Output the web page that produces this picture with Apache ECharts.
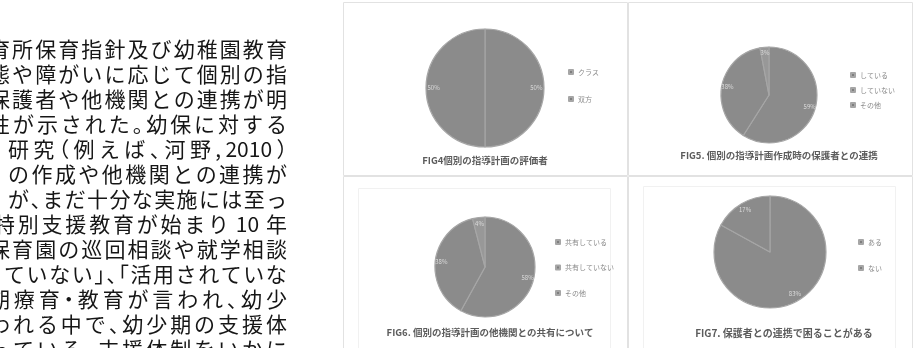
<!DOCTYPE html>
<html>
<head>
<meta charset="utf-8">
<script src="https://cdn.jsdelivr.net/npm/echarts@6/dist/echarts.min.js"></script>
<style>
html,body{margin:0;padding:0;background:#fff;width:915px;height:348px;overflow:hidden;}
#chart{position:absolute;left:0;top:0;width:915px;height:348px;z-index:1;}
#doc{position:absolute;left:0;top:0;width:338px;height:348px;overflow:hidden;z-index:2;
  font-family:"Noto Sans CJK JP","Noto Sans CJK SC",sans-serif;font-size:21px;color:#161616;}
.ln{position:absolute;display:flex;justify-content:space-between;height:25px;line-height:25px;white-space:nowrap;}
.p{font-feature-settings:"halt";}
.a{padding:0 4px;}
</style>
</head>
<body>
<div id="chart"></div>
<div id="doc"></div>
<script>
// ---- chart data ----
const fig4Title = 'FIG4個別の指導計画の評価者';
const fig4Names = ['クラス', '双方'];
const fig4Values = [50, 50];

const fig5Title = 'FIG5. 個別の指導計画作成時の保護者との連携';
const fig5Names = ['している', 'していない', 'その他'];
const fig5Values = [59, 38, 3];

const fig6Title = 'FIG6. 個別の指導計画の他機関との共有について';
const fig6Names = ['共有している', '共有していない', 'その他'];
const fig6Values = [58, 38, 4];

const fig7Title = 'FIG7. 保護者との連携で困ることがある';
const fig7Names = ['ある', 'ない'];
const fig7Values = [83, 17];

// ---- surrounding document text ----
const bodyLines = [
  '育所保育指針及び幼稚園教育',
  '態や障がいに応じて個別の指',
  '保護者や他機関との連携が明',
  '性が示された。幼保に対する',
  '研究（例えば、河野, 2010）',
  'の作成や他機関との連携が',
  'が、まだ十分な実施には至っ',
  '特別支援教育が始まり 10 年',
  '保育園の巡回相談や就学相談',
  'ていない」、「活用されていな',
  '期療育・教育が言われ、幼少',
  'われる中で、幼少期の支援体',
  'っている。支援体制をいかに'
];
const bodyLeftEdges = [-11, -11, -11, -11, 8, 8, 8, -6, -11, 4, -11, -11, -11];

// ---- document text layout ----
const PUNCT = '、。，．「」（）・';
const docEl = document.getElementById('doc');
bodyLines.forEach((s, i) => {
  const d = document.createElement('div');
  d.className = 'ln';
  const L = bodyLeftEdges[i];
  d.style.left = L + 'px';
  d.style.width = (287 - L) + 'px';
  d.style.top = (36 + 25 * i) + 'px';
  const toks = s.match(/[0-9A-Za-z]+|[^\s]/gu);
  toks.forEach(t => {
    const sp = document.createElement('span');
    sp.textContent = t;
    if (PUNCT.includes(t)) sp.className = 'p';
    else if (/^[0-9]+$/.test(t) && s.includes(' ' + t + ' ')) sp.className = 'a';
    d.appendChild(sp);
  });
  docEl.appendChild(d);
});

// ---- chart ----
const FONT = '"Noto Sans CJK JP","Noto Sans CJK SC",sans-serif';
const SLICE_COLORS = ['#8b8b8b', '#8b8b8b', '#989898'];
const panels = [
  {title: fig4Title, names: fig4Names, values: fig4Values, center: [485, 88], r: 59,
   titleXY: [485, 160], titleSize: 9.5, legend: {left: 568, top: 68, gap: 19}},
  {title: fig5Title, names: fig5Names, values: fig5Values, center: [769, 95], r: 48,
   titleXY: [779, 155], titleSize: 9.5, legend: {left: 850, top: 71, gap: 7}},
  {title: fig6Title, names: fig6Names, values: fig6Values, center: [485, 267], r: 50,
   titleXY: [490, 332], titleSize: 9.5, legend: {left: 555, top: 238, gap: 17.5}},
  {title: fig7Title, names: fig7Names, values: fig7Values, center: [770, 252], r: 56,
   titleXY: [784, 333], titleSize: 10, legend: {left: 858, top: 238, gap: 18}}
];

const series = [];
const legends = [];
const graphics = [];

// panel frames
const frames = [[343.5, 2.5, 284, 173], [628.5, 2.5, 284, 173], [343.5, 176.5, 284, 200], [628.5, 176.5, 284, 200]];
frames.forEach(f => {
  graphics.push({type: 'rect', silent: true, z: 0,
    shape: {x: f[0], y: f[1], width: f[2], height: f[3]},
    style: {fill: 'none', stroke: '#e2e2e2', lineWidth: 1}});
});
// faint inner plot-area frames (bottom panels)
[[358.5, 188.5, 252, 200], [643.5, 186.5, 252, 200]].forEach(f => {
  graphics.push({type: 'rect', silent: true, z: 0,
    shape: {x: f[0], y: f[1], width: f[2], height: f[3]},
    style: {fill: 'none', stroke: '#f1f1f1', lineWidth: 1}});
});

panels.forEach((p, idx) => {
  const data = p.names.map((n, i) => ({name: n, value: p.values[i],
    itemStyle: {color: SLICE_COLORS[i]}}));
  const ghostData = p.names.map((n, i) => ({name: n, value: p.values[i]}));
  series.push({
    type: 'pie', center: p.center, radius: [0, p.r], startAngle: 90, clockwise: true,
    silent: true, animation: false, avoidLabelOverlap: false,
    itemStyle: {borderColor: '#a6a6a6', borderWidth: 1.2},
    label: {show: false}, labelLine: {show: false},
    data: data
  });
  series.push({
    type: 'pie', center: p.center, radius: [p.r * 0.64, p.r], startAngle: 90, clockwise: true,
    silent: true, animation: false, avoidLabelOverlap: false, legendHoverLink: false,
    itemStyle: {color: 'rgba(0,0,0,0)', borderWidth: 0},
    label: {show: true, position: 'inside', fontSize: 6, color: '#dcdcdc', fontFamily: FONT,
      formatter: q => Math.round(q.percent) + '%'},
    labelLine: {show: false},
    emphasis: {disabled: true},
    data: ghostData
  });
  legends.push({
    orient: 'vertical', left: p.legend.left, top: p.legend.top, itemGap: p.legend.gap,
    itemWidth: 4, itemHeight: 4, icon: 'rect', padding: 0, selectedMode: false,
    textStyle: {fontSize: 7, color: '#8a8a8a', lineHeight: 8, fontFamily: FONT},
    data: p.names.map((n, i) => ({name: n, itemStyle: {color: '#7e7e7e'}}))
  });
  graphics.push({type: 'text', silent: true, z: 5, x: p.titleXY[0], y: p.titleXY[1],
    style: {text: p.title, align: 'center', verticalAlign: 'middle',
      font: 'bold ' + p.titleSize + 'px ' + FONT, fill: '#5c5c5c'}});
});

const chart = echarts.init(document.getElementById('chart'), null, {renderer: 'canvas'});
chart.setOption({
  backgroundColor: 'transparent',
  animation: false,
  legend: legends,
  series: series,
  graphic: {elements: graphics}
});
</script>
</body>
</html>
